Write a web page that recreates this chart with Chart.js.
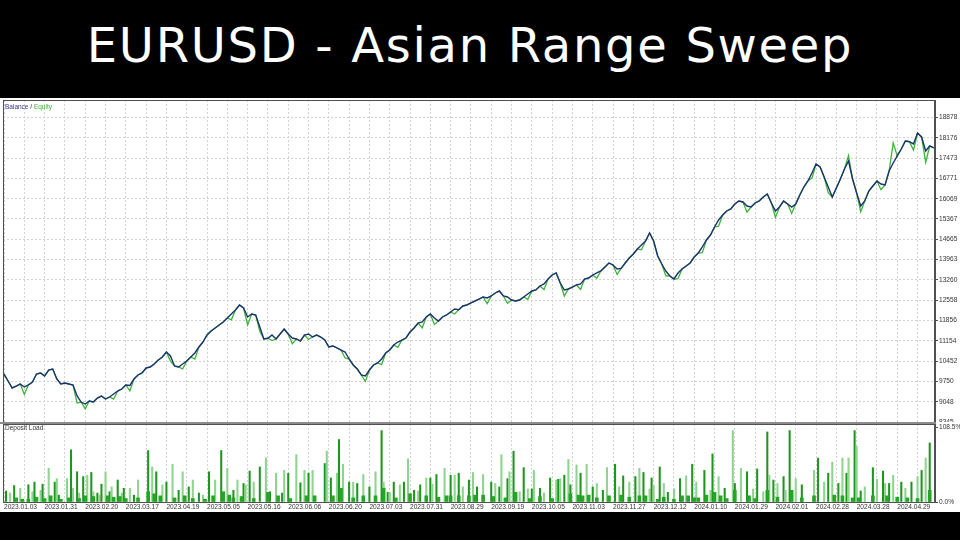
<!DOCTYPE html>
<html><head><meta charset="utf-8">
<script src="https://cdn.jsdelivr.net/npm/chart.js@4.4.1/dist/chart.umd.min.js"></script>
<style>
html,body{margin:0;padding:0;background:#000;width:960px;height:540px;overflow:hidden}
#title{position:absolute;left:-10px;top:21px;width:960px;text-align:center;color:#fff;font-family:"DejaVu Sans";font-size:48px;line-height:48px;letter-spacing:1.7px;white-space:nowrap}
#panel{position:absolute;left:0;top:98px;width:960px;height:414px;background:#fff}
#cTop{position:absolute;left:0;top:0}
#cBot{position:absolute;left:0;top:324px}
#sep{position:absolute;left:0;top:324px;width:936px;height:2px;background:#8c8c8c}
.lbl{position:absolute;font-family:"Liberation Sans";font-size:6.5px;line-height:8px;color:#333;white-space:nowrap}
</style></head>
<body>
<div id="title">EURUSD - Asian Range Sweep</div>
<div id="panel">
  <canvas id="cTop" width="960" height="324"></canvas>
  <canvas id="cBot" width="960" height="90"></canvas>
  <div id="sep"></div>
  <div class="lbl" style="left:5px;top:5px"><span style="color:#34348c">Balance</span> / <span style="color:#3fae3f">Equity</span></div>
  <div class="lbl" style="left:5px;top:326px">Deposit Load</div>
</div>
<script>
const balance = [
10000,9763,9521,9590,9659,9555,9625,9728,10005,10040,
9936,10143,10178,9832,9659,9694,9659,9625,9244,9036,
8967,9071,9036,9175,9244,9140,9209,9313,9417,9486,
9625,9610,9832,9971,10040,10213,10247,10351,10489,10593,
10766,10628,10282,10247,10351,10455,10593,10731,10939,11112,
11354,11492,11596,11700,11804,11942,12081,12219,12392,12288,
11977,12081,12046,11631,11216,11240,11354,11216,11389,11561,
11389,11250,11216,11146,11354,11389,11285,11354,11285,11181,
10939,10974,10905,10835,10766,10524,10317,10178,9971,9936,
10143,10317,10386,10524,10731,10835,11008,11112,11181,11250,
11458,11596,11769,11804,11977,12081,11942,11838,11977,12046,
12150,12253,12230,12357,12392,12461,12530,12599,12669,12634,
12703,12807,12876,12703,12669,12565,12530,12565,12669,12773,
12876,12911,13049,13118,13291,13430,13499,13153,12911,12945,
13014,13084,13118,13291,13326,13430,13499,13568,13706,13845,
13775,13637,13660,13845,14018,14156,14329,14467,14605,14882,
14605,14086,13810,13568,13395,13291,13499,13637,13741,13845,
14052,14191,14398,14640,14813,15090,15332,15505,15643,15712,
15885,15989,15954,15816,15781,15920,15989,16127,16231,15920,
15643,15781,15989,15885,15781,15885,16196,16473,16681,16958,
17269,17165,16819,16473,16127,16439,16750,17096,17373,16750,
16266,15816,15989,16335,16508,16681,16577,16543,17027,17303,
17546,17788,18064,18040,17961,18341,18203,17719,17892,17823];

const equity = [
10000,9763,9521,9590,9659,9300,9625,9728,10005,10040,
9936,10143,10178,9832,9659,9694,9659,9625,9000,9036,
8800,9071,9036,9175,9244,9140,9209,9140,9417,9486,
9625,9420,9832,9971,10040,10213,10247,10351,10489,10593,
10766,10450,10282,10247,10180,10455,10593,10520,10939,11112,
11354,11492,11596,11700,11804,11942,11880,12219,12392,12288,
11700,12081,12046,11480,11216,11240,11160,11216,11389,11561,
11389,11050,11216,11146,11354,11200,11285,11354,11285,11181,
10939,10974,10905,10835,10560,10524,10317,10178,9971,9750,
10143,10317,10386,10330,10731,10835,11008,10930,11181,11250,
11458,11596,11769,11600,11977,12081,11720,11838,11977,12046,
12150,12080,12230,12357,12392,12461,12530,12599,12669,12440,
12703,12807,12876,12703,12450,12565,12530,12565,12669,12590,
12876,12911,13049,12920,13291,13430,13499,13153,12700,12945,
13014,13084,12930,13291,13326,13430,13320,13568,13706,13845,
13775,13450,13660,13845,14018,14156,14329,14300,14605,14882,
14605,14086,13810,13400,13395,13291,13300,13637,13741,13845,
14052,14191,14200,14640,14813,15090,15120,15505,15643,15712,
15885,15989,15954,15600,15781,15920,15989,16127,16231,15920,
15420,15781,15989,15885,15560,15885,16196,16473,16681,16780,
17269,17165,16819,16280,16127,16439,16750,17096,17560,16750,
16266,15620,15989,16335,16508,16681,16380,16543,17027,18000,
17546,17788,18064,18040,17750,18341,18203,17330,17892,17823];

const yTicks = [8345,9048,9750,10452,11154,11856,12558,13260,13963,14665,15367,16069,16771,17473,18176,18878];

const dateLabels = ['2023.01.03','2023.01.31','2023.02.20','2023.03.17','2023.04.19','2023.05.05','2023.05.16','2023.06.06','2023.06.20','2023.07.03','2023.07.31','2023.08.29','2023.09.19','2023.10.05','2023.11.03','2023.11.27','2023.12.12','2024.01.10','2024.01.29','2024.02.01','2024.02.28','2024.03.28','2024.04.29'];

const tallDeal = [1,3,5,8,12,14,15,18,19,22,25,26,27,31,33,34,36,37,39,41,43,44,46,47,48,50,52,53,56,58,59,62,64,66,71,73,75,78,80,83,86,88,91,93,96,98,101,104,107,110,113,115,118,119,121,123,126,129,131,134,137,138,140,144,146,148,150,152,
158,159,161,164,165,167,170,172,174,177,180,183,186,187,189,190,192,195,197,199,202,204,205,208,210,211,213,217,220,222,224,226,229,231,233,236,240,242,244,245,248,249,251,254,256,258,260,261,264,266,269,272,273,274,276,278,279,282,284,287,290,292,295,297,301,303,305,308,311,313,
315,318,319,320,323,325,327,330,333,336,339,341,345,348,349,352,355,359,360,363,366,369,371,374,376,377,379,381,384,385,387,390,393,399,401,404,406,408,411,413,415,416,419,420,422,424,428,430,433,434,436,438,442,444,447,450,452,454,456];
const tallLoad = [16,13,24,20,25,15,29,17,26,49,29,34,10,34,76,20,44,13,37,39,43,15,13,10,26,44,15,22,32,13,20,20,10,32,75,51,44,25,29,55,17,44,22,32,13,10,44,32,75,49,17,32,27,25,45,29,51,64,15,42,13,46,42,69,28,46,42,46,
56,74,35,42,91,55,29,29,27,40,22,44,104,29,14,14,29,25,29,63,17,16,25,35,35,26,40,49,39,39,42,22,32,43,22,40,29,27,22,69,34,44,74,15,50,19,19,46,20,13,35,32,33,34,39,62,25,54,42,55,22,27,17,50,55,22,38,29,37,49,
43,19,35,24,51,27,14,19,34,38,55,29,46,17,70,37,20,104,27,49,44,19,48,15,102,39,32,27,37,17,104,34,25,46,64,29,42,58,27,64,42,64,104,81,16,22,50,33,45,27,27,39,29,20,29,37,46,64,86];

const shortDeal = [6,9,12,16,20,23,28,32,37,40,44,51,54,57,60,66,71,74,77,84,89,93,99,103,108,111,113,117,123,130,135,141,149,153,
162,166,172,177,183,187,193,200,208,214,218,220,224,229,232,236,241,247,252,259,264,270,279,283,285,288,292,298,304,308,313,
316,322,325,330,334,337,340,342,346,350,353,356,360,367,370,376,381,388,393,399,409,413,418,421,428,435,440,445,450,456];
const shortLoad = [6,4,4,7,5,9,4,6,5,9,8,9,7,8,5,6,15,12,9,6,9,5,4,9,15,10,6,8,5,14,9,5,9,9,
9,20,6,9,9,20,6,12,9,7,9,9,9,9,10,10,8,6,14,5,8,5,12,10,9,10,6,9,10,7,9,
9,4,7,4,9,9,6,6,10,14,9,5,17,9,5,17,7,17,6,9,10,9,6,6,9,9,7,6,5,17];

const loadTicks = [0, 108.5];

// ---- styling / layout ----
const GRID = '#d2d2d2', FRAME = '#505050', TXT = '#333';
const FONT = {family: 'Liberation Sans', size: 6.6};
const framePlugin = {
  id: 'frame',
  afterDraw(chart) {
    const a = chart.chartArea, c = chart.ctx;
    c.save(); c.strokeStyle = FRAME; c.lineWidth = 1;
    c.strokeRect(Math.round(a.left) + 0.5, Math.round(a.top) + 0.5, Math.round(a.right - a.left) - 1, Math.round(a.bottom - a.top));
    c.restore();
  }
};
const topXTicks = [];
for (let v = 0; v <= 225; v += 5) topXTicks.push(v);
const botXTicks = [];
for (let v = 0; v <= 450; v += 10) botXTicks.push(v);

new Chart(document.getElementById('cTop'), {
  type: 'line',
  data: {
    labels: balance.map((_, i) => i),
    datasets: [
      {label: 'Balance', data: balance, borderColor: '#1d3270', borderWidth: 1.4},
      {label: 'Equity', data: equity, borderColor: '#3cb43c', borderWidth: 1.3}
    ]
  },
  options: {
    responsive: false, animation: false, events: [],
    layout: {padding: {top: 2, left: 3, right: 0, bottom: 0}},
    plugins: {legend: {display: false}, tooltip: {enabled: false}},
    elements: {point: {radius: 0}, line: {tension: 0}},
    scales: {
      x: {
        type: 'linear', min: -0.25, max: 229.3,
        afterBuildTicks: a => { a.ticks = topXTicks.map(v => ({value: v})); },
        ticks: {display: false},
        grid: {color: GRID, drawTicks: false},
        border: {display: false, dash: [2, 2]},
        afterFit: a => { a.height = 0; a.paddingLeft = 0; a.paddingRight = 0; }
      },
      y: {
        position: 'right', min: 8345, max: 19482,
        afterBuildTicks: a => { a.ticks = yTicks.map(v => ({value: v})); },
        ticks: {font: FONT, color: TXT, padding: 1, callback: v => String(v)},
        grid: {color: GRID, tickLength: 3, tickColor: FRAME},
        border: {display: true, color: FRAME, dash: [2, 2]},
        afterFit: a => { a.width = 25; a.paddingTop = 0; a.paddingBottom = 0; }
      }
    }
  },
  plugins: [framePlugin]
});

new Chart(document.getElementById('cBot'), {
  type: 'bar',
  data: {
    datasets: [
      {label: 'Load', data: shortDeal.map((d, i) => ({x: d, y: shortLoad[i]})), backgroundColor: '#25a525', barThickness: 3, grouped: false},
      {label: 'Max load', data: tallDeal.map((d, i) => ({x: d, y: tallLoad[i]})), backgroundColor: c => (c.dataIndex % 2 ? '#8ed48e' : '#1f951f'), barThickness: 1.4, grouped: false}
    ]
  },
  options: {
    responsive: false, animation: false, events: [],
    layout: {padding: {top: 2, left: 3, right: 0, bottom: 0}},
    plugins: {legend: {display: false}, tooltip: {enabled: false}},
    scales: {
      x: {
        type: 'linear', offset: false, min: -0.5, max: 458.6,
        afterBuildTicks: a => { a.ticks = botXTicks.map(v => ({value: v})); },
        ticks: {align: 'start', autoSkip: false, maxRotation: 0, font: FONT, color: TXT, padding: 1,
          callback: v => (v % 20 === 0 ? dateLabels[v / 20] : '')},
        grid: {offset: false, color: GRID, drawTicks: false},
        border: {display: false, dash: [2, 2]},
        afterFit: a => { a.height = 10; a.paddingLeft = 0; a.paddingRight = 0; }
      },
      y: {
        position: 'right', min: 0, max: 113.6,
        afterBuildTicks: a => { a.ticks = loadTicks.map(v => ({value: v})); },
        ticks: {font: FONT, color: TXT, padding: 1, callback: v => v.toFixed(1) + '%'},
        grid: {drawOnChartArea: false, tickLength: 3, tickColor: FRAME},
        border: {display: true, color: FRAME},
        afterFit: a => { a.width = 25; a.paddingTop = 0; a.paddingBottom = 0; }
      }
    }
  },
  plugins: [framePlugin]
});
</script>
</body></html>
